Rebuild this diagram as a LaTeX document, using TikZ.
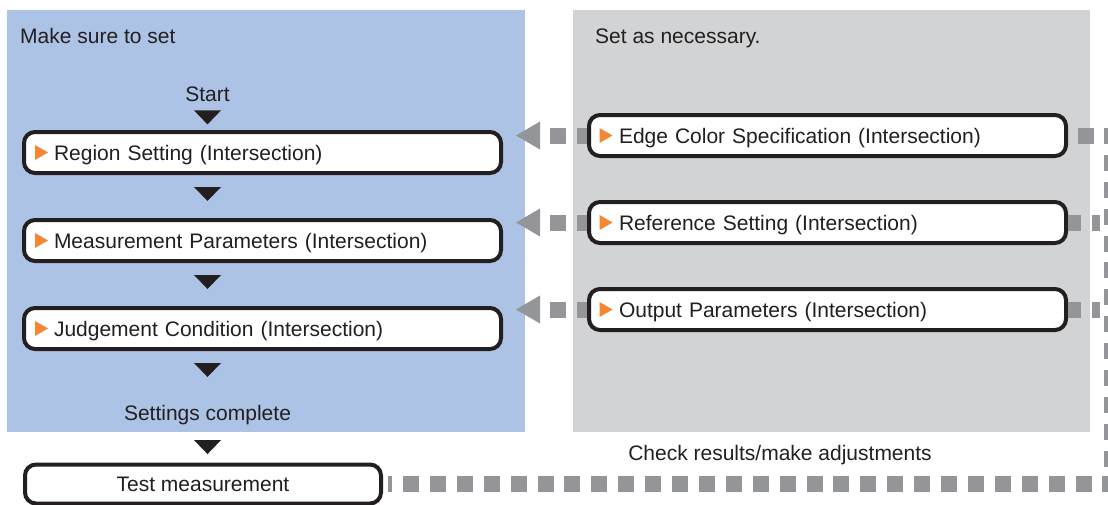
\documentclass[tikz,border=0pt]{standalone}
\usepackage{fontspec}
\setmainfont{Liberation Sans}
\usetikzlibrary{arrows.meta}
\definecolor{ink}{HTML}{231F20}
\definecolor{bluebg}{HTML}{ADC3E5}
\definecolor{graybg}{HTML}{D1D3D4}
\definecolor{dashgray}{HTML}{939598}
\definecolor{orng}{HTML}{F58634}
\tikzset{
  lbl/.style={inner sep=0pt, text=ink},
  box/.style={draw=ink, line width=4pt, fill=white, rounded corners=11pt,
    minimum height=41pt, inner ysep=0pt, text depth=0pt, text=ink},
  stepbox/.style={box, minimum width=477pt, text width=417pt, inner xsep=30pt, align=left},
  testbox/.style={box, minimum width=356pt, minimum height=39pt, align=center},
  otri/.style={fill=orng},
  fwd/.style={draw=dashgray, line width=16pt, dash pattern=on 16pt off 10.9pt},
  back/.style={fwd, -{Triangle[length=24pt,width=28pt,line width=0pt]}},
}
\begin{document}
\begin{tikzpicture}[x=1pt,y=-1pt,font=\fontsize{21}{25}\selectfont]
  \useasboundingbox (0,0) rectangle (1108,504);
  \clip (0,0) rectangle (1108,504);
  % panels
  \fill[bluebg] (7,10) rectangle (524.5,431.5);
  \fill[graybg] (572.5,10) rectangle (1089.5,431.5);
  \node[lbl,anchor=base west] (sure) at (20,43.5) {Make sure to set};
  \node[lbl,anchor=base west] (nec) at (595,43.5) {Set as necessary.};
  % required steps
  \node[lbl,anchor=base] (start) at (207.5,101.5) {Start};
  \node[stepbox] (reg) at (262.5,152.5) {Region Setting (Intersection)};
  \node[stepbox] (meas) at (262.5,240.5) {Measurement Parameters (Intersection)};
  \node[stepbox] (judg) at (262.5,328.5) {Judgement Condition (Intersection)};
  \node[lbl,anchor=base] (done) at (207.5,420.5) {Settings complete};
  \node[testbox] (test) at (203,484) {Test measurement};
  % optional steps
  \node[stepbox] (edge) at (827.5,135.5) {Edge Color Specification (Intersection)};
  \node[stepbox] (ref) at (827.5,222.5) {Reference Setting (Intersection)};
  \node[stepbox] (out) at (827.5,309.5) {Output Parameters (Intersection)};
  \node[lbl,anchor=base] (check) at (780,460.5) {Check results/make adjustments};
  \foreach \n/\d in {reg/13,meas/13,judg/13,edge/12.5,ref/12.5,out/12.5}
    \fill[otri] (\n.west) ++(\d,-7.5) -- ++(13,7.5) -- ++(-13,7.5) -- cycle;
  \foreach \a/\gap in {start/8.5,reg/12,meas/12,judg/12,done/15}
    \fill[ink] (\a.south -| start) ++(-13.5,\gap) -- ++(27,0) -- ++(-13.5,14) -- cycle;
  % dashed connectors
  \coordinate (rail) at (1112,0);
  \coordinate (stub) at (1100,0);
  \draw[fwd,dash phase=17.4pt] (edge.east) -- (edge.east -| rail) -- (test.east -| rail)
    -- ([xshift=5pt]test.east);
  \draw[fwd,dash phase=3pt] (ref.east) -- (ref.east -| stub);
  \draw[fwd,dash phase=3pt] (out.east) -- (out.east -| stub);
  \foreach \b/\a in {edge/reg,ref/meas,out/judg}
    \draw[back,dash phase=6pt,shorten >=13pt] (\b.west) -- (\b.west -| \a.east);
\end{tikzpicture}
\end{document}
